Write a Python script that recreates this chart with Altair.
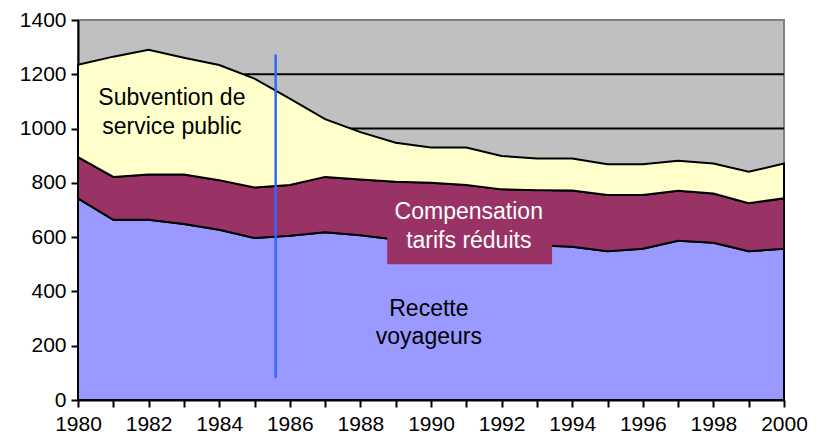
import altair as alt
import pandas as pd

years = list(range(1980, 2001))
recette = [743, 664, 664, 648, 627, 597, 605, 618, 607, 591, 585, 580, 575, 570, 565, 548, 557, 587, 579, 548, 557]
compens_top = [895, 822, 831, 831, 810, 783, 792, 822, 812, 804, 800, 792, 776, 773, 772, 755, 755, 771, 761, 725, 743]
total_top = [1235, 1265, 1290, 1261, 1234, 1184, 1110, 1035, 987, 948, 930, 930, 899, 890, 890, 869, 869, 881, 871, 841, 871]

series = ["Recette voyageurs", "Compensation tarifs réduits", "Subvention de service public"]
colors = ["#9999FF", "#993366", "#FFFFCC"]

rows = []
for i, y in enumerate(years):
    comp = compens_top[i] - recette[i]
    subv = total_top[i] - compens_top[i]
    rows.append({"year": y, "serie": series[0], "k": 0, "v": recette[i]})
    rows.append({"year": y, "serie": series[1], "k": 1, "v": comp})
    rows.append({"year": y, "serie": series[2], "k": 2, "v": subv})
df = pd.DataFrame(rows)

grid_vals = [200, 400, 600, 800, 1000, 1200]
marker = {"x": 1985.6, "y": 80, "y2": 1273}
box = {"x": 1988.76, "x2": 1993.43, "y": 500, "y2": 768}
labels = pd.DataFrame([
    {"x": 1982.66, "y": 1112, "t": "Subvention de", "c": "black"},
    {"x": 1982.66, "y": 1005, "t": "service public", "c": "black"},
    {"x": 1991.07, "y": 692, "t": "Compensation", "c": "white"},
    {"x": 1991.07, "y": 585, "t": "tarifs réduits", "c": "white"},
    {"x": 1989.94, "y": 336, "t": "Recette", "c": "black"},
    {"x": 1989.94, "y": 232, "t": "voyageurs", "c": "black"},
])

xscale = alt.Scale(domain=[1980, 2000], nice=False, zero=False)
yscale = alt.Scale(domain=[0, 1400], nice=False)
FONT = "Liberation Sans"

xaxis = alt.Axis(values=years, format="d",
                 labelExpr="datum.value % 2 == 0 ? datum.label : ''",
                 title=None, grid=False, domainColor="black", domainWidth=2,
                 tickColor="black", tickWidth=2, tickSize=7,
                 labelFontSize=21, labelFont=FONT, labelColor="black",
                 labelPadding=6, labelFlush=False, labelOverlap=False)
yaxis = alt.Axis(values=[0, 200, 400, 600, 800, 1000, 1200, 1400], format="d",
                 title=None, grid=False, domainColor="black", domainWidth=2,
                 tickColor="black", tickWidth=2, tickSize=7,
                 labelFontSize=21, labelFont=FONT, labelColor="black",
                 labelPadding=5)

grid = alt.Chart(pd.DataFrame({"g": grid_vals})).mark_rule(
    color="black", strokeWidth=2
).encode(y=alt.Y("g:Q", scale=yscale, axis=yaxis))

areas = alt.Chart(df).mark_area(stroke="black", strokeWidth=2, opacity=1).encode(
    x=alt.X("year:Q", scale=xscale, axis=xaxis),
    y=alt.Y("v:Q", stack="zero", scale=yscale, axis=yaxis),
    color=alt.Color("serie:N", scale=alt.Scale(domain=series, range=colors), legend=None),
    order=alt.Order("k:Q", sort="ascending"),
)

boxc = alt.Chart(pd.DataFrame([box])).mark_rect(color="#993366").encode(
    x=alt.X("x:Q", scale=xscale, axis=xaxis), x2="x2:Q",
    y=alt.Y("y:Q", scale=yscale, axis=yaxis), y2="y2:Q",
)

line = alt.Chart(pd.DataFrame([marker])).mark_rule(color="#3366FF", strokeWidth=2.5).encode(
    x=alt.X("x:Q", scale=xscale, axis=xaxis),
    y=alt.Y("y:Q", scale=yscale, axis=yaxis), y2="y2:Q",
)

text = alt.Chart(labels).mark_text(fontSize=23, font=FONT, align="center", baseline="middle").encode(
    x=alt.X("x:Q", scale=xscale, axis=xaxis),
    y=alt.Y("y:Q", scale=yscale, axis=yaxis),
    text="t:N",
    color=alt.Color("c:N", scale=None),
)

chart = alt.layer(grid, areas, boxc, line, text).properties(
    width=706, height=380,
    autosize=alt.AutoSizeParams(type="none"),
    padding={"left": 70, "top": 12, "right": 24, "bottom": 33},
    background="white",
).configure_view(fill="#C0C0C0", stroke="#808080", strokeWidth=2)

chart.save("out.html", embed_options={"renderer": "svg", "actions": False})
